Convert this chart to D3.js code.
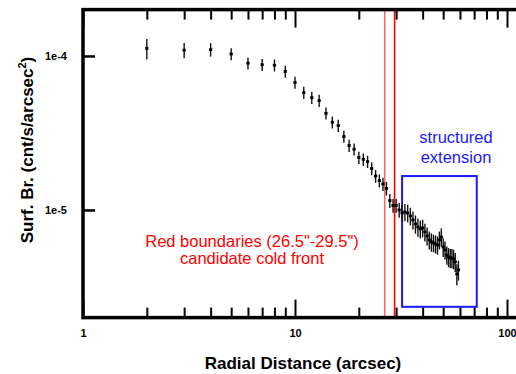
<!DOCTYPE html>
<html><head><meta charset="utf-8">
<script src="https://cdn.jsdelivr.net/npm/d3@7"></script>
<style>
html,body{margin:0;padding:0;background:#fff;}
svg{display:block;font-family:"Liberation Sans",Arial,sans-serif;}
</style></head>
<body>
<svg id="c" width="516" height="374"></svg>
<script>
const radius = [2,3,4,5,6,7,8,9,10,11,12,13,14,15,16,17,18,19,20,21,22,23,24,25,26,27,28,29,30,31,32,33,34,35,36,37,38,39,40,41,42,43,44,45,46,47,48,49,50,51,52,53,54,55,56,57,58,59];
const surfBr = [1.12e-4,1.09e-4,1.10e-4,1.03e-4,8.97e-5,8.78e-5,8.70e-5,7.93e-5,6.73e-5,5.78e-5,5.36e-5,5.13e-5,4.24e-5,3.71e-5,3.53e-5,3.00e-5,2.62e-5,2.48e-5,2.19e-5,2.13e-5,2.06e-5,1.86e-5,1.66e-5,1.55e-5,1.475e-5,1.38e-5,1.15e-5,1.07e-5,1.07e-5,1.00e-5,9.56e-6,9.70e-6,9.56e-6,9.14e-6,8.61e-6,8.11e-6,7.75e-6,7.53e-6,7.64e-6,7.20e-6,6.78e-6,6.39e-6,6.20e-6,6.11e-6,6.02e-6,5.92e-6,6.39e-6,6.68e-6,5.75e-6,5.50e-6,5.10e-6,4.95e-6,4.88e-6,4.88e-6,4.81e-6,4.60e-6,3.84e-6,4.08e-6];
const surfErr = [1.7e-5,1.25e-5,1.1e-5,9.2e-6,8.1e-6,7.9e-6,7.8e-6,7.1e-6,6.1e-6,5.2e-6,4.8e-6,4.6e-6,3.8e-6,3.3e-6,3.2e-6,2.7e-6,2.4e-6,2.2e-6,2.0e-6,2.0e-6,1.9e-6,1.8e-6,1.6e-6,1.5e-6,1.45e-6,1.4e-6,1.2e-6,1.1e-6,1.1e-6,1.1e-6,1.25e-6,1.25e-6,1.25e-6,1.2e-6,1.15e-6,1.1e-6,1.05e-6,1.0e-6,1.0e-6,0.95e-6,0.9e-6,0.85e-6,0.85e-6,0.8e-6,0.8e-6,0.8e-6,0.85e-6,0.9e-6,0.8e-6,0.75e-6,0.7e-6,0.7e-6,0.7e-6,0.7e-6,0.7e-6,0.65e-6,0.6e-6,0.6e-6];
const xMajorTicks = [1,10,100];
const xMinorTicks = [2,3,4,5,6,7,8,9,20,30,40,50,60,70,80,90];
const yTicks = [1e-4,1e-5];
const yTickLabels = ["1e-4","1e-5"];
const coldFront = [26.5,29.5];
const boxX = [32,72];
const boxY = [2.35e-6,1.66e-5];
const redText = ["Red boundaries (26.5\"-29.5\")","candidate cold front"];
const blueText = ["structured","extension"];

const svg = d3.select("#c");
const x = d3.scaleLog().domain([1,120]).range([83, 83+212*Math.log10(120)]);
const y = d3.scaleLog().domain([2e-6,2e-4]).range([317.6,9.6]);
const [x0,x1] = x.range(), [yb,yt] = y.range();

// cold front lines
svg.append("line").attr("x1",x(coldFront[0])).attr("x2",x(coldFront[0])).attr("y1",yt).attr("y2",yb)
  .attr("stroke","#f26b6b").attr("stroke-width",1.6);
svg.append("line").attr("x1",x(coldFront[1])).attr("x2",x(coldFront[1])).attr("y1",yt).attr("y2",yb)
  .attr("stroke","#ff0000").attr("stroke-width",1.6);

// blue box
svg.append("rect").attr("x",x(boxX[0])).attr("y",y(boxY[1]))
  .attr("width",x(boxX[1])-x(boxX[0])).attr("height",y(boxY[0])-y(boxY[1]))
  .attr("fill","none").attr("stroke","#1a1aff").attr("stroke-width",2);

// data
const data = radius.map((r,i)=>({r, v:surfBr[i], e:surfErr[i]}));
const g = svg.append("g");
g.selectAll("line.err").data(data).join("line").attr("class","err")
  .attr("x1",d=>x(d.r)).attr("x2",d=>x(d.r))
  .attr("y1",d=>y(d.v+d.e)).attr("y2",d=>y(d.v-d.e))
  .attr("stroke","#111").attr("stroke-width",1.4);
g.selectAll("rect.pt").data(data).join("rect").attr("class","pt")
  .attr("x",d=>x(d.r)-1.6).attr("y",d=>y(d.v)-1.4).attr("width",3.2).attr("height",2.8)
  .attr("fill","#000");

// axes ticks
function styleAxis(sel){ sel.select(".domain").remove(); sel.selectAll(".tick line").attr("stroke","#000").attr("stroke-width",2); }
const fmtNone = ()=>"";
svg.append("g").attr("transform",`translate(0,${yb})`)
  .call(d3.axisBottom(x).tickValues(xMinorTicks).tickSize(-10).tickFormat(fmtNone)).call(styleAxis);
const bx = svg.append("g").attr("transform",`translate(0,${yb})`)
  .call(d3.axisBottom(x).tickValues(xMajorTicks).tickSize(-18).tickPadding(12).tickFormat(d3.format("d"))).call(styleAxis);
bx.selectAll("text").attr("fill","#000").attr("font-size",11).attr("font-weight","bold").attr("font-family","Liberation Sans, Arial, sans-serif");
svg.append("g").attr("transform",`translate(0,${yt})`)
  .call(d3.axisTop(x).tickValues(xMinorTicks).tickSize(-10).tickFormat(fmtNone)).call(styleAxis);
svg.append("g").attr("transform",`translate(0,${yt})`)
  .call(d3.axisTop(x).tickValues(xMajorTicks).tickSize(-18).tickFormat(fmtNone)).call(styleAxis);
const ly = svg.append("g").attr("transform",`translate(${x0},0)`)
  .call(d3.axisLeft(y).tickValues(yTicks).tickSize(-12).tickPadding(16).tickFormat((d,i)=>yTickLabels[i])).call(styleAxis);
ly.selectAll(".tick line").attr("stroke-width",2.5);
ly.selectAll("text").attr("fill","#000").attr("font-size",11).attr("font-weight","bold").attr("font-family","Liberation Sans, Arial, sans-serif");

// frame
svg.append("rect").attr("x",x0).attr("y",yt).attr("width",x1-x0).attr("height",yb-yt)
  .attr("fill","none").attr("stroke","#000").attr("stroke-width",3.5);

// axis titles
svg.append("text").attr("x",303).attr("y",369).attr("text-anchor","middle")
  .attr("font-size",17).attr("font-weight","bold").text("Radial Distance (arcsec)");
const yt2 = svg.append("text").attr("transform","translate(33,150) rotate(-90)").attr("text-anchor","middle")
  .attr("font-size",17).attr("font-weight","bold");
yt2.append("tspan").text("Surf. Br. (cnt/s/arcsec");
yt2.append("tspan").attr("dy",-7).attr("font-size",11).text("2");
yt2.append("tspan").attr("dy",7).text(")");

// annotations
svg.selectAll("text.red").data(redText).join("text").attr("class","red")
  .attr("x",252).attr("y",(d,i)=>247+i*17).attr("text-anchor","middle")
  .attr("font-size",16.5).attr("fill","#ff0000").text(d=>d);
svg.selectAll("text.blue").data(blueText).join("text").attr("class","blue")
  .attr("x",456).attr("y",(d,i)=>143+i*20).attr("text-anchor","middle")
  .attr("font-size",16.5).attr("fill","#1a1aff").text(d=>d);
</script>
</body></html>
